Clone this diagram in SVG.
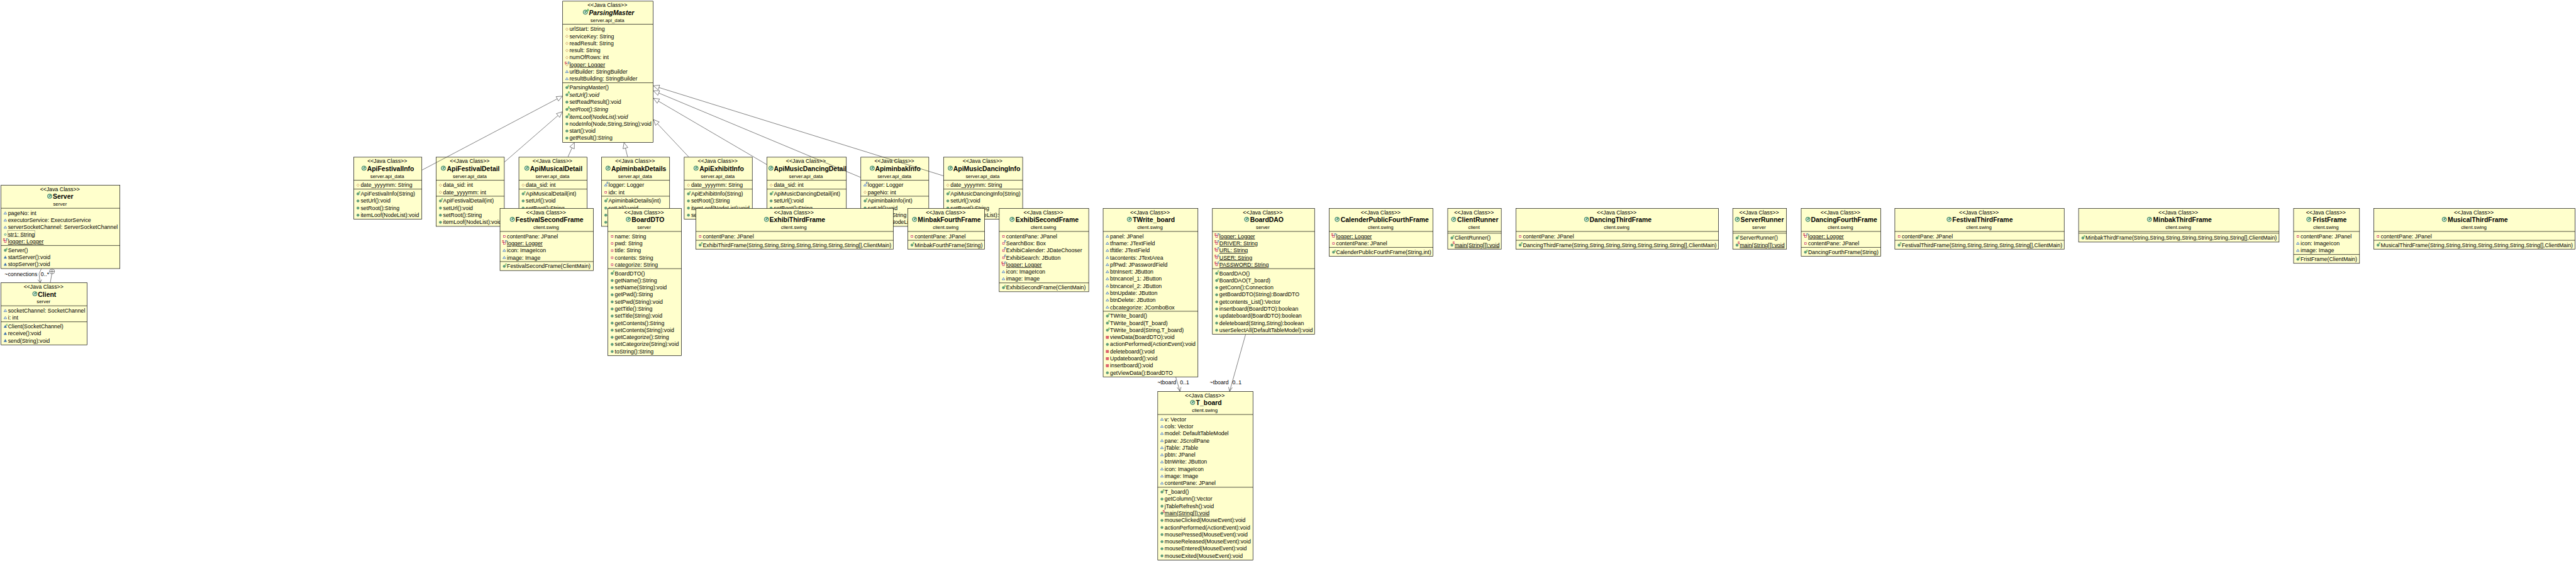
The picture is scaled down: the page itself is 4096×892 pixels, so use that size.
<svg xmlns="http://www.w3.org/2000/svg" width="4096" height="892" viewBox="0 0 4096 892">
<style>
text{font-family:"Liberation Sans",Arial,sans-serif;fill:#000}
.b{fill:#ffffcc;stroke:#000;stroke-width:1.2}
.d{fill:none;stroke:#000;stroke-width:1.2}
.s{font-size:15.5px;text-anchor:middle}
.n{font-size:18.5px;font-weight:bold}
.p{font-size:14px;text-anchor:middle}
.r{font-size:15.6px}
.u{text-decoration:underline}
.i{font-style:italic}
.ni{font-style:italic}
.t{font-size:9px;font-weight:bold}
.tc{fill:#1a9a3a}.ts{fill:#c8104a}.tf{fill:#2f68a8}
.c{fill:none;stroke:#333;stroke-width:1.1}
.h{fill:#fff;stroke:#333;stroke-width:1.1}
</style>
<defs>
<circle id="m0" cx="12" cy="-5" r="3.6" fill="#5f9f7d" stroke="#3f7f5f" stroke-width=".6"/>
<path id="df" d="M12-9 16-2.5H8Z" fill="#dfe9f5" stroke="#2f68a8" stroke-width="1.2"/>
<path id="pm" d="M12-9.5 16-2H8Z" fill="#3f72ac" stroke="#2f68a8" stroke-width=".6"/>
<rect id="rf" x="9.5" y="-7.5" width="5" height="5" fill="#fff" stroke="#c8304a" stroke-width="1.3"/>
<rect id="rm" x="8.5" y="-8.5" width="7" height="7" fill="#e06070" stroke="#c03040" stroke-width=".8"/>
<path id="pf" d="M12-9 15.5-5 12-1 8.5-5Z" fill="#fff8d8" stroke="#c09040" stroke-width="1.2"/>
<circle id="gf" cx="12" cy="-5" r="2.7" fill="#dff0e5" stroke="#3f8f5f" stroke-width="1.3"/>
<g id="cm"><use href="#m0"/><text class="t tc" x="14" y="-7.5">c</text></g>
<g id="acm"><use href="#pm"/><text class="t tc" x="14" y="-7.5">c</text></g>
<g id="am"><use href="#m0"/><text class="t tc" x="14" y="-7.5">A</text></g>
<g id="sm"><use href="#m0"/><text class="t ts" x="14" y="-7.5">S</text></g>
<g id="sf"><use href="#rf"/><text class="t ts" x="5.5" y="-6.5">S</text><text class="t tf" x="14" y="-7">F</text></g>
<g id="ff"><use href="#rf"/><text class="t tf" x="14" y="-7">F</text></g>
<g id="af"><use href="#df"/><text class="t tf" x="14" y="-7">F</text></g>
<g id="spf"><use href="#pf"/><text class="t ts" x="5.5" y="-6.5">S</text><text class="t tf" x="14" y="-7">F</text></g>
<g id="cl"><circle r="6.5" fill="#5a9e78" stroke="#3f7f5f" stroke-width=".8"/><circle r="3.4" fill="none" stroke="#fff" stroke-width="1.7" stroke-dasharray="16 5.4" transform="rotate(-22)"/></g>
<g id="acl"><use href="#cl"/><text class="t tc" x="4" y="-3">A</text></g>
</defs>
<g transform="scale(.56411)">

<g id="Server" transform="translate(3,522)"><rect class="b" width="335" height="235"/><path class="d" d="M0 65H335M0 170H335"/><text class="s" x="166" y="17">&lt;&lt;Java Class&gt;&gt;</text><use href="#cl" x="137" y="31"/><text class="n" x="146" y="39">Server</text><text class="p" x="166" y="58">server</text>
<use href="#df" y="84"/><text class="r" x="19.5" y="84">pageNo: int</text>
<use href="#df" y="104"/><text class="r" x="19.5" y="104">executorService: ExecutorService</text>
<use href="#df" y="124"/><text class="r" x="19.5" y="124">serverSocketChannel: ServerSocketChannel</text>
<use href="#gf" y="144"/><rect x="18.7" y="128" width="77" height="17.5" fill="none" stroke="#808070"/><text class="r" x="19.5" y="144">str1: String</text>
<use href="#sf" y="164"/><text class="r u" x="19.5" y="164">logger: Logger</text>
<use href="#cm" y="188.5"/><text class="r" x="19.5" y="188.5">Server()</text>
<use href="#pm" y="208.5"/><text class="r" x="19.5" y="208.5">startServer():void</text>
<use href="#pm" y="228.5"/><text class="r" x="19.5" y="228.5">stopServer():void</text></g>

<g id="Client" transform="translate(3,797)"><rect class="b" width="242.5" height="175"/><path class="d" d="M0 65H242.5M0 110H242.5"/><text class="s" x="119.7" y="17">&lt;&lt;Java Class&gt;&gt;</text><use href="#cl" x="95.3" y="31"/><text class="n" x="104" y="39">Client</text><text class="p" x="119.7" y="58">server</text>
<use href="#df" y="84"/><text class="r" x="19.5" y="84">socketChannel: SocketChannel</text>
<use href="#df" y="104"/><text class="r" x="19.5" y="104">i: int</text>
<use href="#acm" y="128.5"/><text class="r" x="19.5" y="128.5">Client(SocketChannel)</text>
<use href="#pm" y="148.5"/><text class="r" x="19.5" y="148.5">receive():void</text>
<use href="#pm" y="168.5"/><text class="r" x="19.5" y="168.5">send(String):void</text></g>

<g id="ParsingMaster" transform="translate(1586,3.3)"><rect class="b" width="255" height="398"/><path class="d" d="M0 65H255M0 230H255"/><text class="s" x="126" y="17">&lt;&lt;Java Class&gt;&gt;</text><use href="#acl" x="64" y="31"/><text class="n ni" x="74" y="39">ParsingMaster</text><text class="p" x="126" y="58">server.api_data</text>
<use href="#pf" y="84"/><text class="r" x="19" y="84">urlStart: String</text>
<use href="#pf" y="104"/><text class="r" x="19" y="104">serviceKey: String</text>
<use href="#pf" y="124"/><text class="r" x="19" y="124">readResult: String</text>
<use href="#pf" y="144"/><text class="r" x="19" y="144">result: String</text>
<use href="#pf" y="164"/><text class="r" x="19" y="164">numOfRows: int</text>
<use href="#spf" y="184"/><text class="r u" x="19" y="184">logger: Logger</text>
<use href="#df" y="204"/><text class="r" x="19" y="204">urlBuilder: StringBuilder</text>
<use href="#df" y="224"/><text class="r" x="19" y="224">resultBuilding: StringBuilder</text>
<use href="#cm" y="248.5"/><text class="r" x="19" y="248.5">ParsingMaster()</text>
<use href="#am" y="269"/><text class="r i" x="19" y="269">setUrl():void</text>
<use href="#m0" y="289.5"/><text class="r" x="19" y="289.5">setReadResult():void</text>
<use href="#am" y="310"/><text class="r i" x="19" y="310">setRoot():String</text>
<use href="#am" y="331"/><text class="r i" x="19" y="331">itemLoof(NodeList):void</text>
<use href="#m0" y="351"/><text class="r" x="19" y="351">nodeInfo(Node,String,String):void</text>
<use href="#m0" y="371"/><text class="r" x="19" y="371">start():void</text>
<use href="#m0" y="391"/><text class="r" x="19" y="391">getResult():String</text></g>

<g id="ApiFestivalInfo" transform="translate(997,443)"><rect class="b" width="192" height="175"/><path class="d" d="M0 65H192M0 90H192"/><text class="s" x="94.5" y="17">&lt;&lt;Java Class&gt;&gt;</text><use href="#cl" x="29" y="31"/><text class="n" x="37.7" y="39">ApiFestivalInfo</text><text class="p" x="94.5" y="58">server.api_data</text>
<use href="#pf" y="84"/><text class="r" x="19.5" y="84">date_yyyymm: String</text>
<use href="#cm" y="108.5"/><text class="r" x="19.5" y="108.5">ApiFestivalInfo(String)</text>
<use href="#m0" y="128.5"/><text class="r" x="19.5" y="128.5">setUrl():void</text>
<use href="#m0" y="148.5"/><text class="r" x="19.5" y="148.5">setRoot():String</text>
<use href="#m0" y="168.5"/><text class="r" x="19.5" y="168.5">itemLoof(NodeList):void</text></g>

<g id="ApiFestivalDetail" transform="translate(1229.5,443)"><rect class="b" width="192" height="195"/><path class="d" d="M0 65H192M0 110H192"/><text class="s" x="94.5" y="17">&lt;&lt;Java Class&gt;&gt;</text><use href="#cl" x="20.3" y="31"/><text class="n" x="30" y="39">ApiFestivalDetail</text><text class="p" x="94.5" y="58">server.api_data</text>
<use href="#pf" y="84"/><text class="r" x="19.5" y="84">data_sid: int</text>
<use href="#pf" y="104"/><text class="r" x="19.5" y="104">date_yyyymm: int</text>
<use href="#cm" y="128.5"/><text class="r" x="19.5" y="128.5">ApiFestivalDetail(int)</text>
<use href="#m0" y="148.5"/><text class="r" x="19.5" y="148.5">setUrl():void</text>
<use href="#m0" y="168.5"/><text class="r" x="19.5" y="168.5">setRoot():String</text>
<use href="#m0" y="188.5"/><text class="r" x="19.5" y="188.5">itemLoof(NodeList):void</text></g>

<g id="ApiMusicalDetail" transform="translate(1462.6,443)"><rect class="b" width="192" height="175"/><path class="d" d="M0 65H192M0 90H192"/><text class="s" x="94.5" y="17">&lt;&lt;Java Class&gt;&gt;</text><use href="#cl" x="22.4" y="31"/><text class="n" x="31.4" y="39">ApiMusicalDetail</text><text class="p" x="94.5" y="58">server.api_data</text>
<use href="#pf" y="84"/><text class="r" x="19.5" y="84">data_sid: int</text>
<use href="#cm" y="108.5"/><text class="r" x="19.5" y="108.5">ApiMusicalDetail(int)</text>
<use href="#m0" y="128.5"/><text class="r" x="19.5" y="128.5">setUrl():void</text>
<use href="#m0" y="148.5"/><text class="r" x="19.5" y="148.5">setRoot():String</text></g>

<g id="ApiminbakDetails" transform="translate(1695.5,443)"><rect class="b" width="192" height="195"/><path class="d" d="M0 65H192M0 110H192"/><text class="s" x="94.5" y="17">&lt;&lt;Java Class&gt;&gt;</text><use href="#cl" x="18.3" y="31"/><text class="n" x="27.5" y="39">ApiminbakDetails</text><text class="p" x="94.5" y="58">server.api_data</text>
<use href="#af" y="84"/><text class="r" x="19.5" y="84">logger: Logger</text>
<use href="#rf" y="104"/><text class="r" x="19.5" y="104">idx: int</text>
<use href="#cm" y="128.5"/><text class="r" x="19.5" y="128.5">ApiminbakDetails(int)</text>
<use href="#m0" y="148.5"/><text class="r" x="19.5" y="148.5">setUrl():void</text>
<use href="#m0" y="168.5"/>
<use href="#m0" y="188.5"/></g>

<g id="ApiExhibitInfo" transform="translate(1928.5,443)"><rect class="b" width="192" height="175"/><path class="d" d="M0 65H192M0 90H192"/><text class="s" x="94.5" y="17">&lt;&lt;Java Class&gt;&gt;</text><use href="#cl" x="33.3" y="31"/><text class="n" x="43" y="39">ApiExhibitInfo</text><text class="p" x="94.5" y="58">server.api_data</text>
<use href="#pf" y="84"/><text class="r" x="19.5" y="84">date_yyyymm: String</text>
<use href="#cm" y="108.5"/><text class="r" x="19.5" y="108.5">ApiExhibitInfo(String)</text>
<use href="#m0" y="128.5"/><text class="r" x="19.5" y="128.5">setRoot():String</text>
<use href="#m0" y="148.5"/><text class="r" x="19.5" y="148.5">itemLoof(NodeList):void</text>
<use href="#m0" y="168.5"/><text class="r" x="19.5" y="168.5">setUrl():void</text></g>

<g id="ApiMusicDancingDetail" transform="translate(2161.6,443)"><rect class="b" width="224" height="175"/><path class="d" d="M0 65H224M0 90H224"/><text class="s" x="110" y="17">&lt;&lt;Java Class&gt;&gt;</text><use href="#cl" x="11.3" y="31"/><text class="n" x="19.5" y="39">ApiMusicDancingDetail</text><text class="p" x="110" y="58">server.api_data</text>
<use href="#pf" y="84"/><text class="r" x="19.5" y="84">data_sid: int</text>
<use href="#cm" y="108.5"/><text class="r" x="19.5" y="108.5">ApiMusicDancingDetail(int)</text>
<use href="#m0" y="128.5"/><text class="r" x="19.5" y="128.5">setUrl():void</text>
<use href="#m0" y="148.5"/><text class="r" x="19.5" y="148.5">setRoot():String</text></g>

<g id="ApiminbakInfo" transform="translate(2426.4,443)"><rect class="b" width="191.6" height="195"/><path class="d" d="M0 65H191.6M0 110H191.6"/><text class="s" x="94.5" y="17">&lt;&lt;Java Class&gt;&gt;</text><use href="#cl" x="32.2" y="31"/><text class="n" x="40.3" y="39">ApiminbakInfo</text><text class="p" x="94.5" y="58">server.api_data</text>
<use href="#af" y="84"/><text class="r" x="19.5" y="84">logger: Logger</text>
<use href="#pf" y="104"/><text class="r" x="19.5" y="104">pageNo: int</text>
<use href="#cm" y="128.5"/><text class="r" x="19.5" y="128.5">ApiminbakInfo(int)</text>
<use href="#m0" y="148.5"/><text class="r" x="19.5" y="148.5">setUrl():void</text>
<use href="#m0" y="168.5"/><text class="r" x="19.5" y="168.5">setRoot():String</text>
<use href="#m0" y="188.5"/><text class="r" x="19.5" y="188.5">itemLoof(NodeList):void</text></g>

<g id="ApiMusicDancingInfo" transform="translate(2659.6,443)"><rect class="b" width="223" height="175"/><path class="d" d="M0 65H223M0 90H223"/><text class="s" x="110" y="17">&lt;&lt;Java Class&gt;&gt;</text><use href="#cl" x="19" y="31"/><text class="n" x="27.4" y="39">ApiMusicDancingInfo</text><text class="p" x="110" y="58">server.api_data</text>
<use href="#pf" y="84"/><text class="r" x="19.5" y="84">date_yyyymm: String</text>
<use href="#cm" y="108.5"/><text class="r" x="19.5" y="108.5">ApiMusicDancingInfo(String)</text>
<use href="#m0" y="128.5"/><text class="r" x="19.5" y="128.5">setUrl():void</text>
<use href="#m0" y="148.5"/><text class="r" x="19.5" y="148.5">setRoot():String</text>
<text class="r" x="19.5" y="168.5">itemLoof(NodeList):void</text></g>

<g id="FestivalSecondFrame" transform="translate(1409.4,587.3)"><rect class="b" width="263" height="175.3"/><path class="d" d="M0 65H263M0 150H263"/><text class="s" x="130" y="17">&lt;&lt;Java Class&gt;&gt;</text><use href="#cl" x="34.6" y="31"/><text class="n" x="44" y="39">FestivalSecondFrame</text><text class="p" x="130" y="58">client.swing</text>
<use href="#rf" y="84"/><text class="r" x="19.5" y="84">contentPane: JPanel</text>
<use href="#sf" y="104"/><text class="r u" x="19.5" y="104">logger: Logger</text>
<use href="#df" y="124"/><text class="r" x="19.5" y="124">icon: ImageIcon</text>
<use href="#df" y="144"/><text class="r" x="19.5" y="144">image: Image</text>
<use href="#cm" y="168.5"/><text class="r" x="19.5" y="168.5">FestivalSecondFrame(ClientMain)</text></g>

<g id="BoardDTO" transform="translate(1713.5,587.3)"><rect class="b" width="207" height="415"/><path class="d" d="M0 65H207M0 170H207"/><text class="s" x="102" y="17">&lt;&lt;Java Class&gt;&gt;</text><use href="#cl" x="57.5" y="31"/><text class="n" x="66.9" y="39">BoardDTO</text><text class="p" x="102" y="58">server</text>
<use href="#rf" y="84"/><text class="r" x="19.5" y="84">name: String</text>
<use href="#rf" y="104"/><text class="r" x="19.5" y="104">pwd: String</text>
<use href="#rf" y="124"/><text class="r" x="19.5" y="124">title: String</text>
<use href="#rf" y="144"/><text class="r" x="19.5" y="144">contents: String</text>
<use href="#rf" y="164"/><text class="r" x="19.5" y="164">categorize: String</text>
<use href="#cm" y="188.5"/><text class="r" x="19.5" y="188.5">BoardDTO()</text>
<use href="#m0" y="208.5"/><text class="r" x="19.5" y="208.5">getName():String</text>
<use href="#m0" y="228.5"/><text class="r" x="19.5" y="228.5">setName(String):void</text>
<use href="#m0" y="248.5"/><text class="r" x="19.5" y="248.5">getPwd():String</text>
<use href="#m0" y="268.5"/><text class="r" x="19.5" y="268.5">setPwd(String):void</text>
<use href="#m0" y="288.5"/><text class="r" x="19.5" y="288.5">getTitle():String</text>
<use href="#m0" y="308.5"/><text class="r" x="19.5" y="308.5">setTitle(String):void</text>
<use href="#m0" y="328.5"/><text class="r" x="19.5" y="328.5">getContents():String</text>
<use href="#m0" y="348.5"/><text class="r" x="19.5" y="348.5">setContents(String):void</text>
<use href="#m0" y="368.5"/><text class="r" x="19.5" y="368.5">getCategorize():String</text>
<use href="#m0" y="388.5"/><text class="r" x="19.5" y="388.5">setCategorize(String):void</text>
<use href="#m0" y="408.5"/><text class="r" x="19.5" y="408.5">toString():String</text></g>

<g id="ExhibiThirdFrame" transform="translate(1961.5,587.3)"><rect class="b" width="556.3" height="115"/><path class="d" d="M0 65H556.3M0 90H556.3"/><text class="s" x="276" y="17">&lt;&lt;Java Class&gt;&gt;</text><use href="#cl" x="199" y="31"/><text class="n" x="207.5" y="39">ExhibiThirdFrame</text><text class="p" x="276" y="58">client.swing</text>
<use href="#rf" y="84"/><text class="r" x="19.5" y="84">contentPane: JPanel</text>
<use href="#cm" y="108.5"/><text class="r" x="19.5" y="108.5">ExhibiThirdFrame(String,String,String,String,String,String,String[],ClientMain)</text></g>

<g id="MinbakFourthFrame" transform="translate(2558.6,587.3)"><rect class="b" width="216.8" height="115"/><path class="d" d="M0 65H216.8M0 90H216.8"/><text class="s" x="107" y="17">&lt;&lt;Java Class&gt;&gt;</text><use href="#cl" x="19.4" y="31"/><text class="n" x="28.4" y="39">MinbakFourthFrame</text><text class="p" x="107" y="58">client.swing</text>
<use href="#rf" y="84"/><text class="r" x="19.5" y="84">contentPane: JPanel</text>
<use href="#cm" y="108.5"/><text class="r" x="19.5" y="108.5">MinbakFourthFrame(String)</text></g>

<g id="ExhibiSecondFrame" transform="translate(2816.5,587.3)"><rect class="b" width="252.3" height="235"/><path class="d" d="M0 65H252.3M0 210H252.3"/><text class="s" x="124.5" y="17">&lt;&lt;Java Class&gt;&gt;</text><use href="#cl" x="36.2" y="31"/><text class="n" x="46" y="39">ExhibiSecondFrame</text><text class="p" x="124.5" y="58">client.swing</text>
<use href="#rf" y="84"/><text class="r" x="19.5" y="84">contentPane: JPanel</text>
<use href="#ff" y="104"/><text class="r" x="19.5" y="104">SearchBox: Box</text>
<use href="#ff" y="124"/><text class="r" x="19.5" y="124">ExhibiCalender: JDateChooser</text>
<use href="#ff" y="144"/><text class="r" x="19.5" y="144">ExhibiSearch: JButton</text>
<use href="#sf" y="164"/><text class="r u" x="19.5" y="164">logger: Logger</text>
<use href="#df" y="184"/><text class="r" x="19.5" y="184">icon: ImageIcon</text>
<use href="#df" y="204"/><text class="r" x="19.5" y="204">image: Image</text>
<use href="#cm" y="228.5"/><text class="r" x="19.5" y="228.5">ExhibiSecondFrame(ClientMain)</text></g>

<g id="TWrite_board" transform="translate(3109.4,587.3)"><rect class="b" width="267.2" height="475"/><path class="d" d="M0 65H267.2M0 290H267.2"/><text class="s" x="132" y="17">&lt;&lt;Java Class&gt;&gt;</text><use href="#cl" x="74" y="31"/><text class="n" x="83.6" y="39">TWrite_board</text><text class="p" x="132" y="58">client.swing</text>
<use href="#df" y="84"/><text class="r" x="19.5" y="84">panel: JPanel</text>
<use href="#df" y="104"/><text class="r" x="19.5" y="104">tfname: JTextField</text>
<use href="#df" y="124"/><text class="r" x="19.5" y="124">tftitle: JTextField</text>
<use href="#df" y="144"/><text class="r" x="19.5" y="144">tacontents: JTextArea</text>
<use href="#df" y="164"/><text class="r" x="19.5" y="164">pfPwd: JPasswordField</text>
<use href="#df" y="184"/><text class="r" x="19.5" y="184">btnInsert: JButton</text>
<use href="#df" y="204"/><text class="r" x="19.5" y="204">btncancel_1: JButton</text>
<use href="#df" y="224"/><text class="r" x="19.5" y="224">btncancel_2: JButton</text>
<use href="#df" y="244"/><text class="r" x="19.5" y="244">btnUpdate: JButton</text>
<use href="#df" y="264"/><text class="r" x="19.5" y="264">btnDelete: JButton</text>
<use href="#df" y="284"/><text class="r" x="19.5" y="284">cbcategorize: JComboBox</text>
<use href="#cm" y="308.5"/><text class="r" x="19.5" y="308.5">TWrite_board()</text>
<use href="#cm" y="328.5"/><text class="r" x="19.5" y="328.5">TWrite_board(T_board)</text>
<use href="#cm" y="348.5"/><text class="r" x="19.5" y="348.5">TWrite_board(String,T_board)</text>
<use href="#rm" y="368.5"/><text class="r" x="19.5" y="368.5">viewData(BoardDTO):void</text>
<use href="#m0" y="388.5"/><text class="r" x="19.5" y="388.5">actionPerformed(ActionEvent):void</text>
<use href="#rm" y="408.5"/><text class="r" x="19.5" y="408.5">deleteboard():void</text>
<use href="#rm" y="428.5"/><text class="r" x="19.5" y="428.5">Updateboard():void</text>
<use href="#rm" y="448.5"/><text class="r" x="19.5" y="448.5">insertboard():void</text>
<use href="#m0" y="468.5"/><text class="r" x="19.5" y="468.5">getViewData():BoardDTO</text></g>

<g id="BoardDAO" transform="translate(3417.4,587.3)"><rect class="b" width="288" height="355"/><path class="d" d="M0 65H288M0 170H288"/><text class="s" x="142" y="17">&lt;&lt;Java Class&gt;&gt;</text><use href="#cl" x="96.6" y="31"/><text class="n" x="106.1" y="39">BoardDAO</text><text class="p" x="142" y="58">server</text>
<use href="#sf" y="84"/><text class="r u" x="19.5" y="84">logger: Logger</text>
<use href="#sf" y="104"/><text class="r u" x="19.5" y="104">DRIVER: String</text>
<use href="#sf" y="124"/><text class="r u" x="19.5" y="124">URL: String</text>
<use href="#sf" y="144"/><text class="r u" x="19.5" y="144">USER: String</text>
<use href="#sf" y="164"/><text class="r u" x="19.5" y="164">PASSWORD: String</text>
<use href="#cm" y="188.5"/><text class="r" x="19.5" y="188.5">BoardDAO()</text>
<use href="#cm" y="208.5"/><text class="r" x="19.5" y="208.5">BoardDAO(T_board)</text>
<use href="#m0" y="228.5"/><text class="r" x="19.5" y="228.5">getConn():Connection</text>
<use href="#m0" y="248.5"/><text class="r" x="19.5" y="248.5">getBoardDTO(String):BoardDTO</text>
<use href="#m0" y="268.5"/><text class="r" x="19.5" y="268.5">getcontents_List():Vector</text>
<use href="#m0" y="288.5"/><text class="r" x="19.5" y="288.5">insertboard(BoardDTO):boolean</text>
<use href="#m0" y="308.5"/><text class="r" x="19.5" y="308.5">updateboard(BoardDTO):boolean</text>
<use href="#m0" y="328.5"/><text class="r" x="19.5" y="328.5">deleteboard(String,String):boolean</text>
<use href="#m0" y="348.5"/><text class="r" x="19.5" y="348.5">userSelectAll(DefaultTableModel):void</text></g>

<g id="T_board" transform="translate(3263.3,1103.3)"><rect class="b" width="268.4" height="475.4"/><path class="d" d="M0 65H268.4M0 270H268.4"/><text class="s" x="132.7" y="17">&lt;&lt;Java Class&gt;&gt;</text><use href="#cl" x="98.4" y="31"/><text class="n" x="107.7" y="39">T_board</text><text class="p" x="132.7" y="58">client.swing</text>
<use href="#df" y="84"/><text class="r" x="19.5" y="84">v: Vector</text>
<use href="#df" y="104"/><text class="r" x="19.5" y="104">cols: Vector</text>
<use href="#df" y="124"/><text class="r" x="19.5" y="124">model: DefaultTableModel</text>
<use href="#df" y="144"/><text class="r" x="19.5" y="144">pane: JScrollPane</text>
<use href="#df" y="164"/><text class="r" x="19.5" y="164">jTable: JTable</text>
<use href="#df" y="184"/><text class="r" x="19.5" y="184">pbtn: JPanel</text>
<use href="#df" y="204"/><text class="r" x="19.5" y="204">btnWrite: JButton</text>
<use href="#df" y="224"/><text class="r" x="19.5" y="224">icon: ImageIcon</text>
<use href="#df" y="244"/><text class="r" x="19.5" y="244">image: Image</text>
<use href="#df" y="264"/><text class="r" x="19.5" y="264">contentPane: JPanel</text>
<use href="#cm" y="288.5"/><text class="r" x="19.5" y="288.5">T_board()</text>
<use href="#m0" y="308.5"/><text class="r" x="19.5" y="308.5">getColumn():Vector</text>
<use href="#m0" y="328.5"/><text class="r" x="19.5" y="328.5">jTableRefresh():void</text>
<use href="#sm" y="348.5"/><text class="r u" x="19.5" y="348.5">main(String[]):void</text>
<use href="#m0" y="368.5"/><text class="r" x="19.5" y="368.5">mouseClicked(MouseEvent):void</text>
<use href="#m0" y="388.5"/><text class="r" x="19.5" y="388.5">actionPerformed(ActionEvent):void</text>
<use href="#m0" y="408.5"/><text class="r" x="19.5" y="408.5">mousePressed(MouseEvent):void</text>
<use href="#m0" y="428.5"/><text class="r" x="19.5" y="428.5">mouseReleased(MouseEvent):void</text>
<use href="#m0" y="448.5"/><text class="r" x="19.5" y="448.5">mouseEntered(MouseEvent):void</text>
<use href="#m0" y="468.5"/><text class="r" x="19.5" y="468.5">mouseExited(MouseEvent):void</text></g>

<g id="CalenderPublicFourthFrame" transform="translate(3746.7,587.3)"><rect class="b" width="292.6" height="135"/><path class="d" d="M0 65H292.6M0 110H292.6"/><text class="s" x="145" y="17">&lt;&lt;Java Class&gt;&gt;</text><use href="#cl" x="22.3" y="31"/><text class="n" x="32.3" y="39">CalenderPublicFourthFrame</text><text class="p" x="145" y="58">client.swing</text>
<use href="#sf" y="84"/><text class="r u" x="19.5" y="84">logger: Logger</text>
<use href="#rf" y="104"/><text class="r" x="19.5" y="104">contentPane: JPanel</text>
<use href="#cm" y="128.5"/><text class="r" x="19.5" y="128.5">CalenderPublicFourthFrame(String,int)</text></g>

<g id="ClientRunner" transform="translate(4080.7,587.3)"><rect class="b" width="151" height="115"/><path class="d" d="M0 65H151M0 70H151"/><text class="s" x="74" y="17">&lt;&lt;Java Class&gt;&gt;</text><use href="#cl" x="16.8" y="31"/><text class="n" x="26.7" y="39">ClientRunner</text><text class="p" x="74" y="58">client</text>
<use href="#cm" y="88.5"/><text class="r" x="19.5" y="88.5">ClientRunner()</text>
<use href="#sm" y="108.5"/><text class="r u" x="19.5" y="108.5">main(String[]):void</text></g>

<g id="DancingThirdFrame" transform="translate(4273,587.3)"><rect class="b" width="570.6" height="115"/><path class="d" d="M0 65H570.6M0 90H570.6"/><text class="s" x="284" y="17">&lt;&lt;Java Class&gt;&gt;</text><use href="#cl" x="199" y="31"/><text class="n" x="207.7" y="39">DancingThirdFrame</text><text class="p" x="284" y="58">client.swing</text>
<use href="#rf" y="84"/><text class="r" x="19.5" y="84">contentPane: JPanel</text>
<use href="#cm" y="108.5"/><text class="r" x="19.5" y="108.5">DancingThirdFrame(String,String,String,String,String,String,String[],ClientMain)</text></g>

<g id="ServerRunner" transform="translate(4884.2,587.3)"><rect class="b" width="151.5" height="115"/><path class="d" d="M0 65H151.5M0 70H151.5"/><text class="s" x="74" y="17">&lt;&lt;Java Class&gt;&gt;</text><use href="#cl" x="12.8" y="31"/><text class="n" x="21.8" y="39">ServerRunner</text><text class="p" x="74" y="58">server</text>
<use href="#cm" y="88.5"/><text class="r" x="19.5" y="88.5">ServerRunner()</text>
<use href="#sm" y="108.5"/><text class="r u" x="19.5" y="108.5">main(String[]):void</text></g>

<g id="DancingFourthFrame" transform="translate(5077,587.3)"><rect class="b" width="224" height="135"/><path class="d" d="M0 65H224M0 110H224"/><text class="s" x="110.5" y="17">&lt;&lt;Java Class&gt;&gt;</text><use href="#cl" x="19" y="31"/><text class="n" x="27.5" y="39">DancingFourthFrame</text><text class="p" x="110.5" y="58">client.swing</text>
<use href="#sf" y="84"/><text class="r u" x="19.5" y="84">logger: Logger</text>
<use href="#rf" y="104"/><text class="r" x="19.5" y="104">contentPane: JPanel</text>
<use href="#cm" y="128.5"/><text class="r" x="19.5" y="128.5">DancingFourthFrame(String)</text></g>

<g id="FestivalThirdFrame" transform="translate(5341,587.3)"><rect class="b" width="477.4" height="115"/><path class="d" d="M0 65H477.4M0 90H477.4"/><text class="s" x="237" y="17">&lt;&lt;Java Class&gt;&gt;</text><use href="#cl" x="153" y="31"/><text class="n" x="162" y="39">FestivalThirdFrame</text><text class="p" x="237" y="58">client.swing</text>
<use href="#rf" y="84"/><text class="r" x="19.5" y="84">contentPane: JPanel</text>
<use href="#cm" y="108.5"/><text class="r" x="19.5" y="108.5">FestivalThirdFrame(String,String,String,String,String[],ClientMain)</text></g>

<g id="MinbakThirdFrame" transform="translate(5859,587.3)"><rect class="b" width="565" height="95"/><path class="d" d="M0 65H565M0 70H565"/><text class="s" x="281" y="17">&lt;&lt;Java Class&gt;&gt;</text><use href="#cl" x="199.7" y="31"/><text class="n" x="210" y="39">MinbakThirdFrame</text><text class="p" x="281" y="58">client.swing</text>
<use href="#cm" y="88.5"/><text class="r" x="19.5" y="88.5">MinbakThirdFrame(String,String,String,String,String,String,String[],ClientMain)</text></g>

<g id="FristFrame" transform="translate(6465,587.3)"><rect class="b" width="185.8" height="155"/><path class="d" d="M0 65H185.8M0 130H185.8"/><text class="s" x="91" y="17">&lt;&lt;Java Class&gt;&gt;</text><use href="#cl" x="43" y="31"/><text class="n" x="54" y="39">FristFrame</text><text class="p" x="91" y="58">client.swing</text>
<use href="#rf" y="84"/><text class="r" x="19.5" y="84">contentPane: JPanel</text>
<use href="#df" y="104"/><text class="r" x="19.5" y="104">icon: ImageIcon</text>
<use href="#df" y="124"/><text class="r" x="19.5" y="124">image: Image</text>
<use href="#cm" y="148.5"/><text class="r" x="19.5" y="148.5">FristFrame(ClientMain)</text></g>

<g id="MusicalThirdFrame" transform="translate(6691,587.3)"><rect class="b" width="567" height="115"/><path class="d" d="M0 65H567M0 90H567"/><text class="s" x="282" y="17">&lt;&lt;Java Class&gt;&gt;</text><use href="#cl" x="198.8" y="31"/><text class="n" x="208.4" y="39">MusicalThirdFrame</text><text class="p" x="282" y="58">client.swing</text>
<use href="#rf" y="84"/><text class="r" x="19.5" y="84">contentPane: JPanel</text>
<use href="#cm" y="108.5"/><text class="r" x="19.5" y="108.5">MusicalThirdFrame(String,String,String,String,String,String,String[],ClientMain)</text></g>

<g id="connectors">
<path class="c" d="M1189.7 479.3 1570.8 278.5"/><path class="h" d="M1585 271 1574.1 284.7 1567.5 272.3Z"/>
<path class="c" d="M1422 456.7 1572.9 325.5"/><path class="h" d="M1585 315 1577.5 330.8 1568.3 320.2Z"/>
<path class="c" d="M1601 442 1612.4 416.6"/><path class="h" d="M1619 402 1618.8 419.5 1606 413.7Z"/>
<path class="c" d="M1769 442 1762.9 417.5"/><path class="h" d="M1759 402 1769.7 415.8 1756.1 419.2Z"/>
<path class="c" d="M1941 442 1853 348.6"/><path class="h" d="M1842 337 1858.1 343.8 1847.9 353.4Z"/>
<path class="c" d="M2161.6 464 1855.8 285.1"/><path class="h" d="M1842 277 1859.3 279.1 1852.3 291.1Z"/>
<path class="c" d="M2426 500 1856.8 262.2"/><path class="h" d="M1842 256 1859.5 255.7 1854.1 268.7Z"/>
<path class="c" d="M2659.6 495.7 1857.3 246.7"/><path class="h" d="M1842 242 1859.4 240 1855.2 253.4Z"/>
<path class="c" d="M116.7 757 110 771.7 113.3 796.7M106.7 788.3 113.3 796.7 117.3 788"/>
<path class="c" d="M141.7 797 146 772"/><circle class="h" cx="146.7" cy="765" r="7"/><path class="c" d="M139.7 765H153.7M146.7 758V772"/>
<text class="r" x="13" y="778">~connections</text><text class="r" x="115" y="778">0..*</text>
<path class="c" d="M3314 1062.5 3326 1103M3318 1092 3326 1103 3329 1091"/>
<path class="c" d="M3511 942.7 3466 1103M3463 1091 3466 1103 3473.5 1092"/>
<text class="r" x="3262" y="1084">~tboard</text><text class="r" x="3326" y="1084">0..1</text>
<text class="r" x="3410" y="1084">~tboard</text><text class="r" x="3473.5" y="1084">0..1</text>
</g>
</g>
</svg>
